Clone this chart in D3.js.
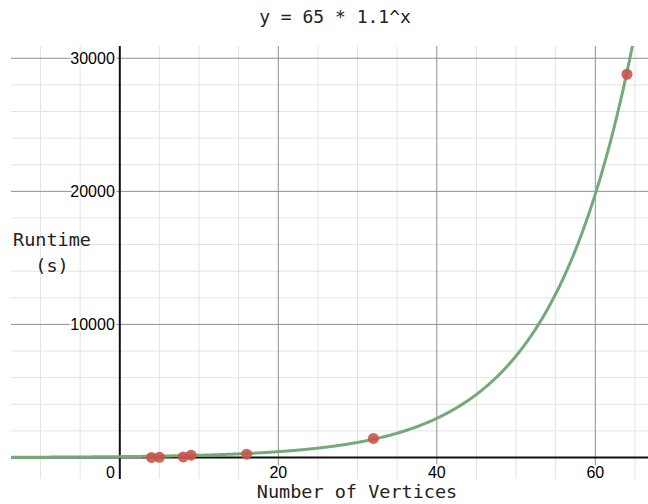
<!DOCTYPE html>
<html>
<head>
<meta charset="utf-8">
<script src="https://cdn.jsdelivr.net/npm/d3@7"></script>
<style>
  body { margin: 0; background: #fff; }
  svg { display: block; }
</style>
</head>
<body>
<svg id="chart"></svg>
<script>
// measured runtimes
const vertices = [4, 5, 8, 9, 16, 32, 64];
const runtimes = [5, 10, 40, 170, 250, 1430, 28800];

// fitted model shown in the title
const fitA = 65;
const fitB = 1.1;

const xTickLabels = [20, 40, 60];
const yTickLabels = [10000, 20000, 30000];

const width = 648;
const height = 504;
const plot = { left: 11, right: 648, top: 46, bottom: 479 };

const svg = d3.select('#chart')
  .attr('width', width)
  .attr('height', height);

const x = d3.scaleLinear()
  .domain([-13.73, 66.65])
  .range([plot.left, plot.right]);

const y = d3.scaleLinear()
  .domain([-1616, 30922])
  .range([plot.bottom, plot.top]);

svg.append('clipPath').attr('id', 'clip')
  .append('rect')
  .attr('x', plot.left)
  .attr('y', plot.top)
  .attr('width', plot.right - plot.left)
  .attr('height', plot.bottom - plot.top);

const grid = svg.append('g');

// minor grid
grid.selectAll('.vminor')
  .data(d3.range(-10, 67, 5).filter(d => d % 20 !== 0))
  .join('line')
  .attr('x1', d => x(d)).attr('x2', d => x(d))
  .attr('y1', plot.top).attr('y2', plot.bottom)
  .attr('stroke', '#e3e3e3').attr('stroke-width', 1);

grid.selectAll('.hminor')
  .data(d3.range(2000, 31000, 2000).filter(d => d % 10000 !== 0))
  .join('line')
  .attr('x1', plot.left).attr('x2', plot.right)
  .attr('y1', d => y(d)).attr('y2', d => y(d))
  .attr('stroke', '#e3e3e3').attr('stroke-width', 1);

// major grid
grid.selectAll('.vmajor')
  .data(xTickLabels)
  .join('line')
  .attr('x1', d => x(d)).attr('x2', d => x(d))
  .attr('y1', plot.top).attr('y2', plot.bottom)
  .attr('stroke', '#8f8f8f').attr('stroke-width', 1);

grid.selectAll('.hmajor')
  .data(yTickLabels)
  .join('line')
  .attr('x1', plot.left).attr('x2', plot.right)
  .attr('y1', d => y(d)).attr('y2', d => y(d))
  .attr('stroke', '#8f8f8f').attr('stroke-width', 1);

// axes
svg.append('line')
  .attr('x1', plot.left).attr('x2', plot.right)
  .attr('y1', y(0)).attr('y2', y(0))
  .attr('stroke', '#111').attr('stroke-width', 2);

svg.append('line')
  .attr('x1', x(0)).attr('x2', x(0))
  .attr('y1', plot.top).attr('y2', plot.bottom)
  .attr('stroke', '#111').attr('stroke-width', 2);

// tick labels
const labelStyle = sel => sel
  .attr('font-family', '"Liberation Sans", Arial, sans-serif')
  .attr('font-size', '16px')
  .attr('fill', '#000')
  .attr('stroke', '#fff')
  .attr('stroke-width', 4)
  .attr('paint-order', 'stroke');

svg.selectAll('.ylab')
  .data(yTickLabels)
  .join('text')
  .call(labelStyle)
  .attr('x', x(0) - 5)
  .attr('y', d => y(d) + 6)
  .attr('text-anchor', 'end')
  .text(d => d);

svg.selectAll('.xlab')
  .data(xTickLabels)
  .join('text')
  .call(labelStyle)
  .attr('x', d => x(d))
  .attr('y', y(0) + 21)
  .attr('text-anchor', 'middle')
  .text(d => d);

svg.append('text')
  .call(labelStyle)
  .attr('x', x(0) - 5)
  .attr('y', y(0) + 21)
  .attr('text-anchor', 'end')
  .text('0');

// fitted curve
const curveX = d3.range(-14, 67, 0.1);
const line = d3.line()
  .x(d => x(d))
  .y(d => y(fitA * Math.pow(fitB, d)));

svg.append('path')
  .datum(curveX)
  .attr('clip-path', 'url(#clip)')
  .attr('d', line)
  .attr('fill', 'none')
  .attr('stroke', '#75aa78')
  .attr('stroke-width', 3);

// data points
svg.selectAll('.pt')
  .data(vertices)
  .join('circle')
  .attr('cx', d => x(d))
  .attr('cy', (d, i) => y(runtimes[i]))
  .attr('r', 5.5)
  .attr('fill', '#c9534a')
  .attr('opacity', 0.9);

// titles
const mono = '"DejaVu Sans Mono", "Liberation Mono", monospace';

svg.append('text')
  .attr('x', 335)
  .attr('y', 23)
  .attr('text-anchor', 'middle')
  .attr('font-family', mono)
  .attr('font-size', '18px')
  .attr('fill', '#222')
  .text(`y = ${fitA} * ${fitB}^x`);

svg.append('text')
  .attr('x', 357)
  .attr('y', 498)
  .attr('text-anchor', 'middle')
  .attr('font-family', mono)
  .attr('font-size', '18.5px')
  .attr('fill', '#222')
  .text('Number of Vertices');

const yLabel = svg.append('text')
  .attr('text-anchor', 'middle')
  .attr('font-family', mono)
  .attr('font-size', '18.5px')
  .attr('fill', '#222');
yLabel.append('tspan').attr('x', 52).attr('y', 246).text('Runtime');
yLabel.append('tspan').attr('x', 52).attr('y', 272).text('(s)');
</script>
</body>
</html>
